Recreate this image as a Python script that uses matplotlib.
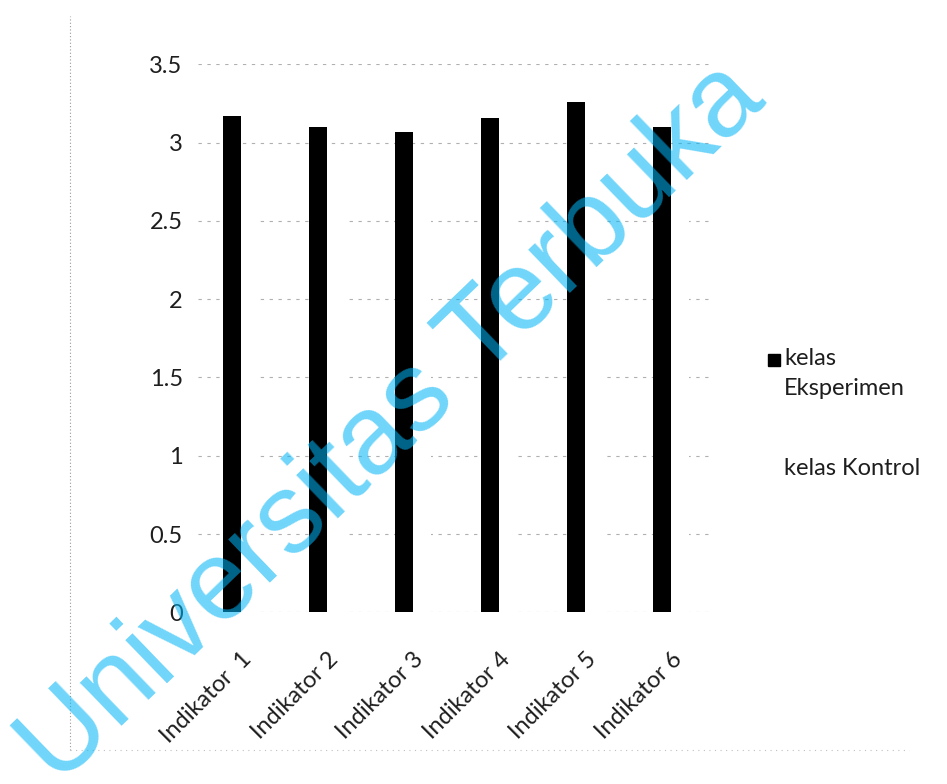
import numpy as np
import matplotlib
matplotlib.use("Agg")
import matplotlib.pyplot as plt
from matplotlib.lines import Line2D

# data
categories = ["Indikator  1", "Indikator 2", "Indikator 3", "Indikator 4", "Indikator 5", "Indikator 6"]
eksperimen = [3.17, 3.10, 3.07, 3.16, 3.26, 3.10]
kontrol = [2.80, 2.80, 2.80, 2.80, 2.80, 2.80]  # white bars, not visible in the scan
series_names = ["kelas\nEksperimen", "kelas Kontrol"]
series_colors = ["black", "white"]
yticks = [0, 0.5, 1, 1.5, 2, 2.5, 3, 3.5]

plt.rcParams['font.family'] = ['Lato', 'DejaVu Sans']

fig = plt.figure(figsize=(9.47, 7.84), dpi=100)
ax = fig.add_axes([0.209, 0.219, 0.545, 0.699])

x = np.arange(len(categories))
w = 0.21
ax.bar(x - w / 2, eksperimen, w, color=series_colors[0], zorder=3)
ax.bar(x + w / 2, kontrol, w, color=series_colors[1], zorder=3)

ax.set_xlim(-0.5, len(categories) - 0.5)
ax.set_ylim(0, 3.5)
ax.set_yticks(yticks)
ax.set_yticklabels([f"{v:g}" for v in yticks], fontsize=17, color='#1e1e1e')
ax.set_xticks(x)
ax.set_xticklabels(categories, rotation=45, ha='right', va='top', rotation_mode='anchor',
                   fontsize=17, color='#1e1e1e')
ax.tick_params(axis='both', length=0)
ax.tick_params(axis='y', pad=11)
ax.tick_params(axis='x', pad=26)
for s in ax.spines.values():
    s.set_visible(False)
ax.yaxis.grid(True, color='#b0b0b0', linestyle=(0, (3, 5)), linewidth=0.8, zorder=0)
ax.set_axisbelow(True)

# legend (marker sits on the first text line, like the original)
fig.add_artist(Line2D([0.817], [0.541], marker='s', markersize=8, color=series_colors[0],
                      transform=fig.transFigure))
fig.text(0.828, 0.556, series_names[0], fontsize=17, color='#1e1e1e', va='top',
         linespacing=1.55)
fig.text(0.828, 0.403, series_names[1], fontsize=17, color='#1e1e1e', va='center')

# faint dotted border of the chart area
fig.add_artist(Line2D([0.074, 0.074], [0.043, 0.98], transform=fig.transFigure,
                      color='#9a9a9a', linestyle=(0, (1, 2)), linewidth=0.8))
fig.add_artist(Line2D([0.074, 0.96], [0.043, 0.043], transform=fig.transFigure,
                      color='#c0c0c0', linestyle=(0, (1, 4)), linewidth=0.8))

# watermark
fig.text(0.414, 0.459, "Universitas Terbuka", rotation=44, ha='center', va='center',
         fontsize=81, color=(0.0, 0.71, 0.97), alpha=0.56,
         family=['Liberation Sans', 'DejaVu Sans'], zorder=10)

fig.savefig("out.png", dpi=100)
